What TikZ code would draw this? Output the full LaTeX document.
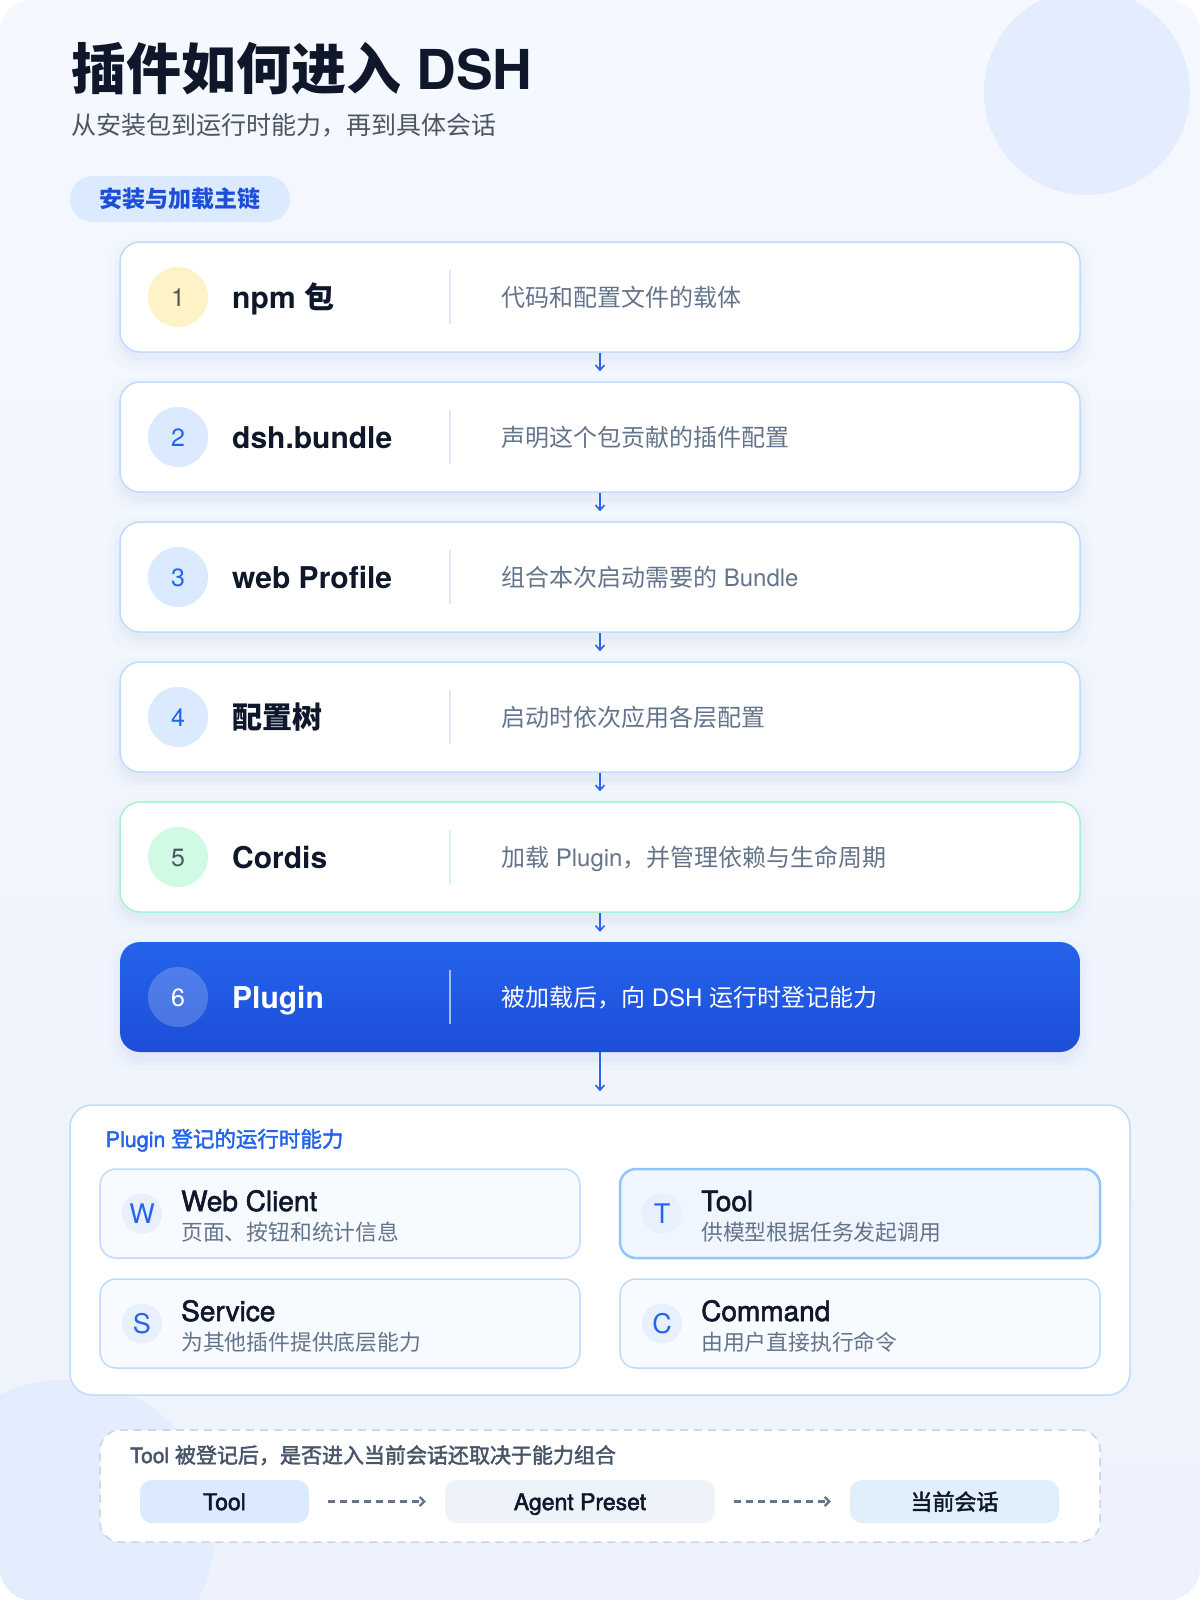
\documentclass[tikz,border=0pt]{standalone}
\usepackage{fontspec}
\setmainfont{TeX Gyre Heros}
\newfontfamily\cjk{Noto Sans CJK SC}
\newfontfamily\cjkm{Noto Sans CJK SC}[FakeBold=2]
\newfontfamily\latm{TeX Gyre Heros}[FakeBold=2]
\usetikzlibrary{arrows.meta}
\definecolor{bgA}{HTML}{F5F8FE}
\definecolor{bgB}{HTML}{EDF2FC}
\definecolor{deco}{HTML}{E4EDFD}
\definecolor{ink}{HTML}{0F172A}
\definecolor{subgray}{HTML}{4B5563}
\definecolor{slate}{HTML}{64748B}
\definecolor{slateD}{HTML}{475569}
\definecolor{cardline}{HTML}{BFDBFE}
\definecolor{lineT}{HTML}{93C5FD}
\definecolor{blueA}{HTML}{2563EB}
\definecolor{blueB}{HTML}{1D4ED8}
\definecolor{bluebg}{HTML}{DBEAFE}
\definecolor{yel}{HTML}{FEF3C7}
\definecolor{numgray}{HTML}{57534E}
\definecolor{mint}{HTML}{D1FAE5}
\definecolor{mintline}{HTML}{A7F3D0}
\definecolor{divc}{HTML}{DCE7F7}
\definecolor{subfill}{HTML}{F7FAFF}
\definecolor{toolfill}{HTML}{EFF6FF}
\definecolor{letfill}{HTML}{E8F0FD}
\definecolor{dashc}{HTML}{CBD5E1}
\definecolor{agentfill}{HTML}{EEF2F9}
\definecolor{sessfill}{HTML}{E0EFFA}
\definecolor{shc}{HTML}{3B5BA9}
\newcommand\setfs[1]{\fontsize{#1}{#1}\selectfont}
% name, cy, card style, circle style, number, title, desc, divider style, desc style
\newcommand\mkcard[9]{%
  \foreach \sE/\sO in {2/0.03,6/0.02,11/0.012}{\fill[shc,opacity=\sO,rounded corners=24pt] (120-\sE,#2-55-\sE+7) rectangle (1080+\sE,#2+55+\sE+7);}
  \node[#3] (#1) at (600,#2) {};
  \node[numc,#4] (#1n) at (178,#2) {#5};
  \draw[line width=1.5pt,#8] (450,#2-27) -- (450,#2+27);
  \node[ctitle] (#1t) at (232,#2+11) {#6};
  \node[cdesc,#9] (#1d) at (501,#2+9) {#7};
}
% name, cx, cy, style, letter, title, desc
\newcommand\mksub[7]{%
  \node[#4] (#1) at (#2,#3) {};
  \node[letc] (#1l) at (#2-198,#3) {#5};
  \node[stitle] (#1t) at (#2-159,#3-2.5) {#6};
  \node[sdesc] (#1d) at (#2-159,#3+26.5) {#7};
}
\begin{document}
\begin{tikzpicture}[x=1pt,y=-1pt,
  card/.style={draw=cardline, line width=1.5pt, fill=white, rounded corners=20pt, minimum width=960pt, minimum height=110pt, inner sep=0pt},
  cardsix/.style={draw=none, top color=blueA, bottom color=blueB, rounded corners=20pt, minimum width=960pt, minimum height=110pt, inner sep=0pt},
  numc/.style={circle, minimum size=60pt, inner sep=0pt, font=\setfs{25}, text height=18pt, text depth=0pt},
  ctitle/.style={anchor=base west, inner sep=0pt, text=ink, font=\setfs{30}\bfseries},
  cdesc/.style={anchor=base west, inner sep=0pt, text=slate, font=\setfs{24}},
  arr/.style={draw=blueA, line width=1.6pt, -{Straight Barb[length=5pt,width=9pt]}},
  darr/.style={draw=slate, line width=2.3pt, dash pattern=on 7pt off 5pt, -{Straight Barb[length=4.5pt,width=9pt]}},
  sub/.style={draw=cardline, line width=1.5pt, fill=subfill, rounded corners=16pt, minimum width=480pt, minimum height=89pt, inner sep=0pt},
  toolsub/.style={sub, draw=lineT, line width=2.5pt, fill=toolfill},
  letc/.style={circle, minimum size=40pt, inner sep=0pt, fill=letfill, text=blueA, font=\setfs{27}, text height=19.4pt, text depth=0pt},
  stitle/.style={anchor=base west, inner sep=0pt, text=ink, font=\setfs{28}\latm},
  sdesc/.style={anchor=base west, inner sep=0pt, text=slate, font=\setfs{21.8}\cjk},
  pill/.style={rounded corners=12pt, minimum height=43pt, inner sep=0pt, text=ink, font=\setfs{23}\latm, text height=17pt, text depth=0pt}
]
\useasboundingbox (0,0) rectangle (1200,1600);
\fill[white] (0,0) rectangle (1200,1600);
\begin{scope}
  \path[clip, rounded corners=32pt] (0,0) rectangle (1200,1600);
  \shade[top color=bgA, bottom color=bgB] (0,0) rectangle (1200,1600);
  \fill[deco] (1087,92) circle[radius=103pt];
  \fill[deco] (65,1530) circle[radius=150pt];
\end{scope}

\node[anchor=base west, inner sep=0pt, text=ink, font=\setfs{55}\bfseries] (title) at (71,90) {{\cjk 插件如何进入} DSH};
\node[anchor=base west, inner sep=0pt, text=subgray, font=\setfs{25}\cjk] (subtitle) at (71,135) {从安装包到运行时能力，再到具体会话};
\node[fill=bluebg, rounded corners=23pt, minimum width=220pt, minimum height=46pt, inner sep=0pt, text=blueB, font=\setfs{23}\cjk\bfseries, text height=17pt, text depth=0pt] (tag) at (180,199) {安装与加载主链};

\mkcard{c1}{297}{card}{fill=yel,text=numgray}{1}{npm {\cjk 包}}{{\cjk 代码和配置文件的载体}}{draw=divc}{}
\mkcard{c2}{437}{card}{fill=bluebg,text=blueA}{2}{dsh.bundle}{{\cjk 声明这个包贡献的插件配置}}{draw=divc}{}
\mkcard{c3}{577}{card}{fill=bluebg,text=blueA}{3}{web Profile}{{\cjk 组合本次启动需要的} Bundle}{draw=divc}{}
\mkcard{c4}{717}{card}{fill=bluebg,text=blueA}{4}{{\cjk 配置树}}{{\cjk 启动时依次应用各层配置}}{draw=divc}{}
\mkcard{c5}{857}{card,draw=mintline}{fill=mint,text=subgray}{5}{Cordis}{{\cjk 加载} Plugin{\cjk ，并管理依赖与生命周期}}{draw=mint}{}
\mkcard{c6}{997}{cardsix}{fill=white,fill opacity=0.2,text opacity=1,text=white}{6}{\color{white}Plugin}{{\cjk 被加载后，向} DSH {\cjk 运行时登记能力}}{draw=white,opacity=0.6}{text=white}

\draw[arr, shorten >=10pt] (c1.south) -- (c2.north);
\draw[arr, shorten >=10pt] (c2.south) -- (c3.north);
\draw[arr, shorten >=10pt] (c3.south) -- (c4.north);
\draw[arr, shorten >=10pt] (c4.south) -- (c5.north);
\draw[arr, shorten >=10pt] (c5.south) -- (c6.north);

\node[draw=cardline, line width=1.5pt, fill=white, rounded corners=22pt, minimum width=1060pt, minimum height=290pt] (panel) at (600,1250) {};
\draw[arr, shorten >=13pt] (c6.south) -- (panel.north);
\node[anchor=base west, inner sep=0pt, text=blueA, font=\setfs{21.5}\latm] (panh) at (105.5,1147) {Plugin {\cjkm 登记的运行时能力}};

\mksub{web}{340}{1213.5}{sub}{W}{Web Client}{页面、按钮和统计信息}
\mksub{tool}{860}{1213.5}{toolsub}{T}{Tool}{供模型根据任务发起调用}
\mksub{serv}{340}{1323.5}{sub}{S}{Service}{为其他插件提供底层能力}
\mksub{cmd}{860}{1323.5}{sub}{C}{Command}{由用户直接执行命令}

\node[draw=dashc, line width=1.5pt, dash pattern=on 8pt off 6pt, fill=white, rounded corners=20pt, minimum width=1000pt, minimum height=112pt] (note) at (600,1486) {};
\node[anchor=base west, inner sep=0pt, text=slateD, font=\setfs{21}\latm] (noteh) at (130,1463) {Tool {\cjkm 被登记后，是否进入当前会话还取决于能力组合}};
\node[pill, fill=bluebg, minimum width=169pt] (p1) at (224.5,1501.5) {Tool};
\node[pill, fill=agentfill, minimum width=270pt] (p2) at (580,1501.5) {Agent Preset};
\node[pill, fill=sessfill, minimum width=209pt, font=\setfs{22}\cjkm] (p3) at (954.5,1501.5) {当前会话};
\draw[darr, shorten <=19pt, shorten >=19pt] (p1.east) -- (p2.west);
\draw[darr, shorten <=19pt, shorten >=19pt] (p2.east) -- (p3.west);
\end{tikzpicture}
\end{document}
